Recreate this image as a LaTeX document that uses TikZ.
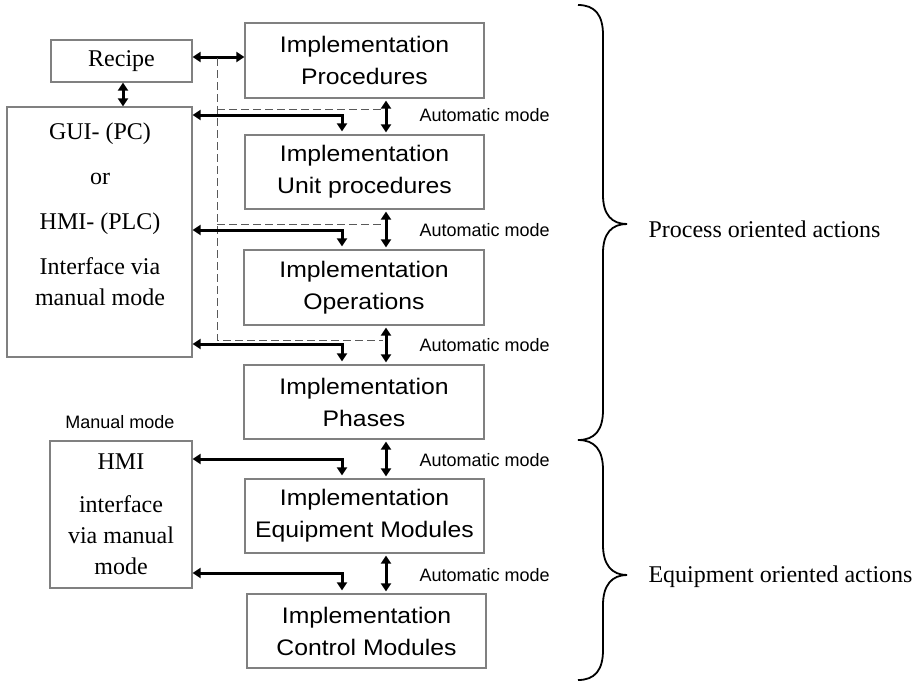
\documentclass[tikz,border=0pt]{standalone}
\usepackage{fontspec}
\setmainfont{Liberation Serif}
\newfontfamily\arialf{Liberation Sans}
\newfontfamily\boxf[FakeStretch=1.1]{Liberation Sans}
\usetikzlibrary{arrows.meta,calc}
\begin{document}
\begin{tikzpicture}[x=1pt,y=-1pt,
  ibox/.style={draw=black!50,line width=1.2pt,inner sep=0pt,align=center,
    font=\boxf\fontsize{22.5}{32}\selectfont},
  sbox/.style={draw=black!50,line width=1.2pt,inner sep=0pt,align=center,
    font=\fontsize{24}{31}\selectfont},
  thk/.style={line width=3pt,{Triangle[length=8pt,width=10pt]}-{Triangle[length=8pt,width=10pt]}},
  dsh/.style={draw=black!65,line width=1pt,dash pattern=on 8pt off 4pt},
  auto/.style={anchor=west,font=\arialf\fontsize{18}{20}\selectfont},
  brc/.style={line width=1.8pt},
  side/.style={anchor=west,font=\fontsize{24}{28}\selectfont}]
\useasboundingbox (0,0) rectangle (918,683);
\fill[white] (0,0) rectangle (918,683);
% right column
\node[ibox,minimum width=239pt,minimum height=75pt] (proc) at (364.5,60.5) {Implementation\\Procedures};
\node[ibox,minimum width=239pt,minimum height=74pt] (unit) at (364.5,172) {Implementation\\Unit procedures};
\node[ibox,minimum width=240pt,minimum height=75pt] (ops) at (364,287.5) {Implementation\\Operations};
\node[ibox,minimum width=240pt,minimum height=74pt] (pha) at (364,402) {Implementation\\Phases};
\node[ibox,minimum width=239pt,minimum height=74pt] (equ) at (364.5,516) {Implementation\\Equipment Modules};
\node[ibox,minimum width=239pt,minimum height=74pt] (ctl) at (366.5,631) {Implementation\\Control Modules};
% left column
\node[sbox,minimum width=141pt,minimum height=42pt] (rec) at (121.5,61) {Recipe};
\node[sbox,minimum width=185pt,minimum height=250pt] (gui) at (99.5,232) {};
\node[align=center,font=\fontsize{24}{31}\selectfont] (guitxt) at (100,214) {GUI- (PC)\\[14pt]or\\[14pt]HMI- (PLC)\\[14pt]Interface via\\manual mode};
\node[sbox,minimum width=142pt,minimum height=147pt] (hmi) at (121,514.5) {HMI\\[12pt]interface\\via manual\\mode};
\node[font=\arialf\fontsize{18}{20}\selectfont] (man) at (120,422) {Manual mode};
% recipe arrows
\draw[thk] ([yshift=4pt]rec.east) -- ([yshift=4pt]rec.east -| proc.west);
\draw[thk] ([xshift=1.5pt]rec.south) -- ([xshift=1.5pt]rec.south |- gui.north);
% dashed feedback
\coordinate (d0) at (217,58);
\coordinate (d1) at (217,109);
\coordinate (d2) at (217,224);
\coordinate (d3) at (217,340);
\coordinate (dx) at (383,0);
\draw[dsh] (d0) -- (d3) -- (d3 -| dx);
\draw[dsh] (d1) -- (d1 -| dx);
\draw[dsh] (d2) -- (d2 -| dx);
% vertical automatic arrows
\coordinate (ax) at (386,0);
\draw[thk,shorten <=2pt,shorten >=2pt] (proc.south -| ax) -- (unit.north -| ax);
\draw[thk,shorten <=2pt,shorten >=2pt] (unit.south -| ax) -- (ops.north -| ax);
\draw[thk,shorten <=2pt,shorten >=2pt] (ops.south -| ax) -- (pha.north -| ax);
\draw[thk,shorten <=2pt,shorten >=2pt] (pha.south -| ax) -- (equ.north -| ax);
\draw[thk,shorten <=2pt,shorten >=2pt] (equ.south -| ax) -- (ctl.north -| ax);
\node[auto] (a1) at (416,115) {Automatic mode};
\node[auto] (a2) at (416,230) {Automatic mode};
\node[auto] (a3) at (416,345) {Automatic mode};
\node[auto] (a4) at (416,460) {Automatic mode};
\node[auto] (a5) at (416,575) {Automatic mode};
% manual elbow arrows
\coordinate (e1) at (342,115);
\coordinate (e2) at (342,230);
\coordinate (e3) at (342,344);
\coordinate (e4) at (342,459);
\coordinate (e5) at (342,573);
\draw[thk,shorten >=3pt] (gui.east |- e1) -- (e1) -- (e1 |- unit.north);
\draw[thk,shorten >=3pt] (gui.east |- e2) -- (e2) -- (e2 |- ops.north);
\draw[thk,shorten >=3pt] (gui.east |- e3) -- (e3) -- (e3 |- pha.north);
\draw[thk,shorten >=3pt] (hmi.east |- e4) -- (e4) -- (e4 |- equ.north);
\draw[thk,shorten >=3pt] (hmi.east |- e5) -- (e5) -- (e5 |- ctl.north);
% braces
\draw[brc] (578,5) .. controls (595,5) and (603,15) .. (603,35) -- (603,195)
  .. controls (603,215) and (612,224) .. (627,224)
  .. controls (612,224) and (603,233) .. (603,253) -- (603,410)
  .. controls (603,430) and (595,440) .. (578,440);
\draw[brc] (578,440) .. controls (595,440) and (603,450) .. (603,470) -- (603,545)
  .. controls (603,565) and (612,575) .. (627,575)
  .. controls (612,575) and (603,585) .. (603,605) -- (603,650)
  .. controls (603,670) and (595,680) .. (578,680);
\node[side] (pl) at (645,229) {Process oriented actions};
\node[side] (el) at (645,577) {Equipment oriented actions};
\end{tikzpicture}
\end{document}
